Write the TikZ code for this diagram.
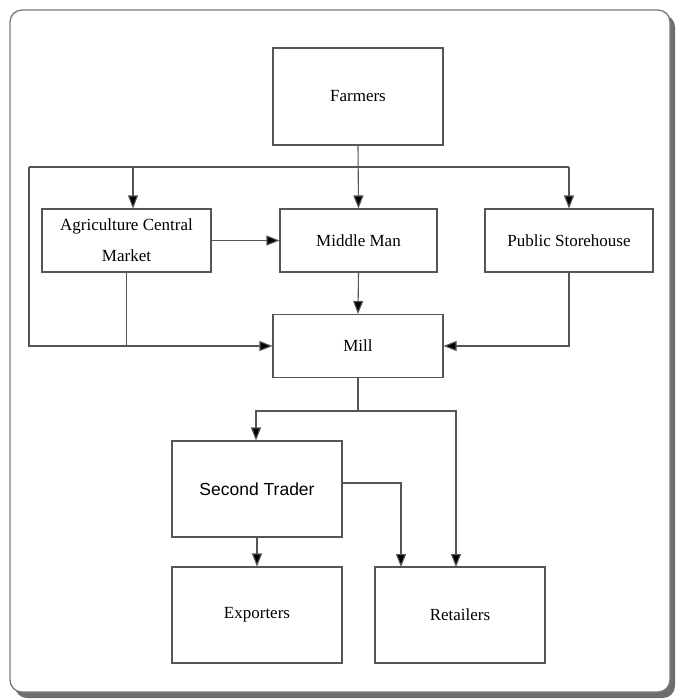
\documentclass[tikz,border=0pt]{standalone}
\usepackage{fontspec}
\setmainfont{Liberation Serif}
\newfontfamily\arialfont{Liberation Sans}
\usetikzlibrary{arrows.meta}
\definecolor{linegray}{HTML}{555555}
\definecolor{framegray}{HTML}{7A7A7A}
\definecolor{shadowgray}{HTML}{6E6E6E}
\tikzset{
  box/.style={draw=linegray, line width=1.1pt, fill=white, inner sep=0pt,
    align=center, font=\fontsize{17}{31}\selectfont},
  link/.style={draw=linegray, line width=1.1pt},
  arr/.style={link, -{Triangle[length=13pt,width=10pt,fill=black]}},
}
\begin{document}
\begin{tikzpicture}[x=1pt,y=-1pt]
\useasboundingbox (0,0) rectangle (676,699);
% framed panel with drop shadow
\fill[shadowgray, rounded corners=12pt] (15,15) rectangle (675,698);
\draw[framegray, line width=1.3pt, fill=white, rounded corners=12pt] (10,10) rectangle (670,692);

% boxes
\node[box, minimum width=170pt, minimum height=97pt] (farm) at (358,96.5) {Farmers};
\node[box, minimum width=169pt, minimum height=63pt] (agri) at (126.5,240.5) {Agriculture Central\\Market};
\node[box, minimum width=157pt, minimum height=63pt] (mid) at (358.5,240.5) {Middle Man};
\node[box, minimum width=168pt, minimum height=63pt] (pub) at (569,240.5) {Public Storehouse};
\node[box, minimum width=170pt, minimum height=63pt] (mill) at (358,346) {Mill};
\node[box, minimum width=170pt, minimum height=96pt, font=\arialfont\fontsize{17.5}{20}\selectfont] (sec) at (257,489) {Second Trader};
\node[box, minimum width=170pt, minimum height=96pt] (exp) at (257,615) {Exporters};
\node[box, minimum width=170pt, minimum height=96pt] (ret) at (460,615) {Retailers};

% junction points
\coordinate (busL) at (29,167);
\coordinate (busR) at (569,167);
\coordinate (agriIn) at (133,167);
\coordinate (split) at (358,411);
\coordinate (splitL) at (256,411);
\coordinate (splitR) at (456,411);
\coordinate (secOut) at (342,483);
\coordinate (retInA) at (401,567);
\coordinate (retInB) at (456,567);

% connectors
\draw[link] (busL) -- (busR);
\draw[arr] (farm.south) -- (mid.north);
\draw[arr] (agriIn) -- (agriIn |- agri.north);
\draw[arr] (busR) -- (pub.north);
\draw[arr] (busL) |- (mill.west);
\draw[link] (agri.south) -- (agri.south |- mill.west);
\draw[arr] (agri.east) -- (mid.west);
\draw[arr] (mid.south) -- (mill.north);
\draw[arr] (pub.south) |- (mill.east);
\draw[link] (mill.south) -- (split);
\draw[arr] (split) -- (splitL) -- (splitL |- sec.north);
\draw[arr] (split) -- (splitR) -- (retInB);
\draw[arr] (secOut) -| (retInA);
\draw[arr] (sec.south) -- (exp.north);
\end{tikzpicture}
\end{document}
